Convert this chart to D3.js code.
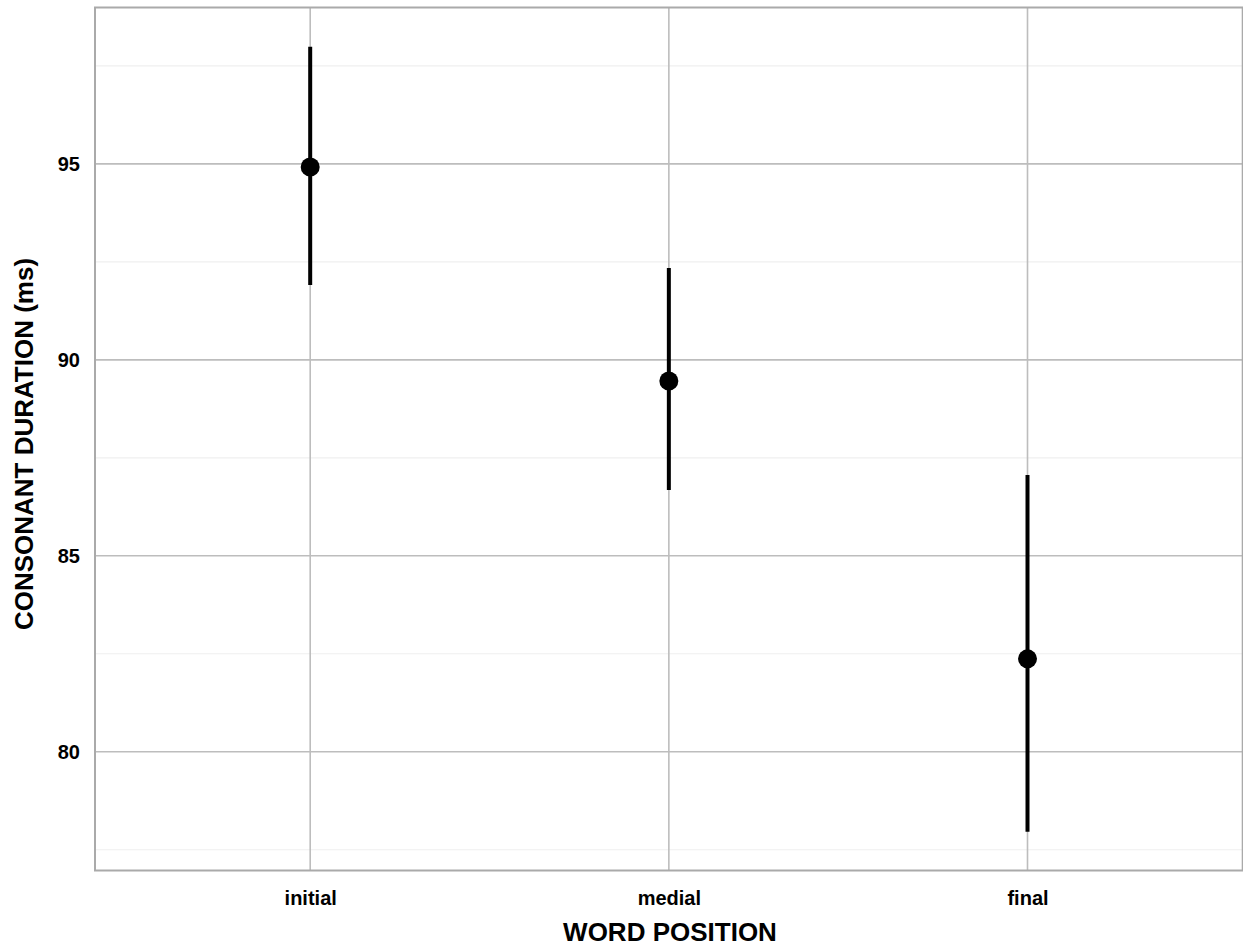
<!DOCTYPE html>
<html>
<head>
<meta charset="utf-8">
<script src="https://cdn.jsdelivr.net/npm/d3@7"></script>
<style>
  html, body { margin: 0; padding: 0; background: #fff; }
  svg { display: block; }
  text { font-family: "Liberation Sans", Arial, Helvetica, sans-serif; font-weight: bold; fill: #000; }
</style>
</head>
<body>
<svg id="chart" width="1243" height="949"></svg>
<script>
const categories = ["initial", "medial", "final"];
const means = [94.92, 89.46, 82.37];
const lower = [91.91, 86.68, 77.96];
const upper = [97.99, 92.34, 87.06];
const yTicks = [80, 85, 90, 95];
const yMinorTicks = [77.5, 82.5, 87.5, 92.5, 97.5];
const xTitle = "WORD POSITION";
const yTitle = "CONSONANT DURATION (ms)";

(function () {
const svg = d3.select("#chart");
const pLeft = 95, pRight = 1242.7, pTop = 7.5, pBottom = 870.5;

const x = d3.scalePoint().domain(categories).range([pLeft, pRight]).padding(0.6);
const y = d3.scaleLinear().domain([76.97, 98.99]).range([pBottom, pTop]);

// minor gridlines
svg.append("g").selectAll("line").data(yMinorTicks).join("line")
  .attr("x1", pLeft).attr("x2", pRight)
  .attr("y1", d => y(d)).attr("y2", d => y(d))
  .attr("stroke", "#efefef").attr("stroke-width", 1.2);

// major gridlines y
svg.append("g").selectAll("line").data(yTicks).join("line")
  .attr("x1", pLeft).attr("x2", pRight)
  .attr("y1", d => y(d)).attr("y2", d => y(d))
  .attr("stroke", "#bdbdbd").attr("stroke-width", 1.6);

// major gridlines x
svg.append("g").selectAll("line").data(categories).join("line")
  .attr("x1", d => x(d)).attr("x2", d => x(d))
  .attr("y1", pTop).attr("y2", pBottom)
  .attr("stroke", "#bdbdbd").attr("stroke-width", 1.6);

// panel border
svg.append("rect")
  .attr("x", pLeft).attr("y", pTop)
  .attr("width", pRight - pLeft).attr("height", pBottom - pTop)
  .attr("fill", "none").attr("stroke", "#aaaaaa").attr("stroke-width", 2);

// y axis
const yAxis = d3.axisLeft(y).tickValues(yTicks).tickSize(0).tickPadding(15).tickFormat(d3.format("d"));
const gy = svg.append("g").attr("transform", `translate(${pLeft},0)`).call(yAxis);
gy.select(".domain").remove();
gy.selectAll("text").style("font-size", "20px").style("font-family", "Liberation Sans, Arial, sans-serif").style("font-weight", "bold").attr("fill", "#000");

// x axis
const xAxis = d3.axisBottom(x).tickSize(0).tickPadding(20);
const gx = svg.append("g").attr("transform", `translate(0,${pBottom})`).call(xAxis);
gx.select(".domain").remove();
gx.selectAll("text").style("font-size", "20px").style("font-family", "Liberation Sans, Arial, sans-serif").style("font-weight", "bold").attr("fill", "#000");

// error bars
const data = categories.map((c, i) => ({c, m: means[i], lo: lower[i], hi: upper[i]}));
svg.append("g").selectAll("line").data(data).join("line")
  .attr("x1", d => x(d.c)).attr("x2", d => x(d.c))
  .attr("y1", d => y(d.lo)).attr("y2", d => y(d.hi))
  .attr("stroke", "#000").attr("stroke-width", 4);

svg.append("g").selectAll("circle").data(data).join("circle")
  .attr("cx", d => x(d.c)).attr("cy", d => y(d.m)).attr("r", 9.5)
  .attr("fill", "#000");

// titles
svg.append("text")
  .attr("x", 670).attr("y", 941)
  .attr("text-anchor", "middle").style("font-size", "26px")
  .text(xTitle);

svg.append("text")
  .attr("transform", `translate(33,444) rotate(-90)`)
  .attr("text-anchor", "middle").style("font-size", "26px")
  .text(yTitle);
})();
</script>
</body>
</html>
